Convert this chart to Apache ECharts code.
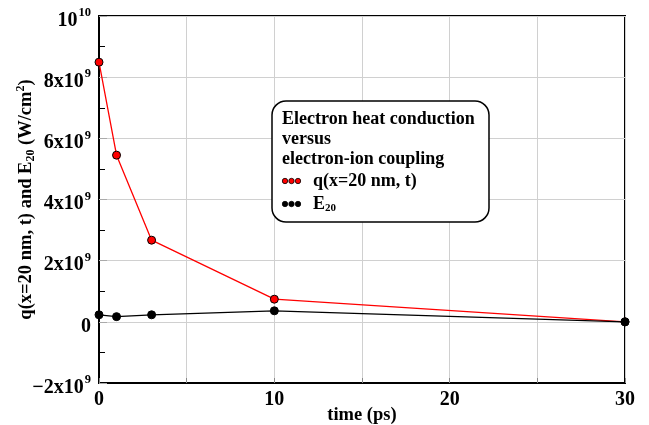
<!DOCTYPE html>
<html><head><meta charset="utf-8">
<script src="https://cdn.jsdelivr.net/npm/echarts@6/dist/echarts.min.js"></script>
<style>html,body{margin:0;padding:0;background:#fff}#c{width:649px;height:425px}</style>
</head><body><div id="c"></div>
<script>
const times = [0, 1, 3, 10, 30];
const qValues = [8.49e9, 5.45e9, 2.67e9, 0.74e9, 0.0];
const eValues = [0.23e9, 0.17e9, 0.23e9, 0.36e9, 0.0];
const xTickLabels = {0: '0', 10: '10', 20: '20', 30: '30'};
const yTickLabels = {
  '-2000000000': ['−2x10', '9'],
  '0': ['0', ''],
  '2000000000': ['2x10', '9'],
  '4000000000': ['4x10', '9'],
  '6000000000': ['6x10', '9'],
  '8000000000': ['8x10', '9'],
  '10000000000': ['10', '10']
};
const FONT = '"Liberation Serif", "Times New Roman", serif';
const chart = echarts.init(document.getElementById('c'), null, {renderer: 'canvas'});
const sup = {fontFamily: FONT, fontWeight: 'bold', fontSize: 12.5, verticalAlign: 'top', lineHeight: 24, padding: [0,0,0,1]};
const big = {fontFamily: FONT, fontWeight: 'bold', fontSize: 20, lineHeight: 24, verticalAlign: 'bottom'};
const LF = 'bold 18px ' + FONT;
chart.setOption({
  animation: false,
  grid: {left: 99, right: 24, top: 16, bottom: 42, show: true, borderColor: '#000', borderWidth: 2,
         backgroundColor: 'transparent', outerBoundsMode: 'none', containLabel: false},
  xAxis: {
    type: 'value', min: 0, max: 30, interval: 5,
    name: 'time (ps)', nameLocation: 'middle', nameGap: 23, nameMoveOverlap: false,
    nameTextStyle: {fontFamily: FONT, fontWeight: 'bold', fontSize: 18.5, color: '#000'},
    axisLine: {onZero: false, lineStyle: {color: '#000', width: 2}},
    axisTick: {inside: true, length: 5, lineStyle: {color: '#888'}},
    axisLabel: {margin: 7, color: '#000', fontFamily: FONT, fontWeight: 'bold', fontSize: 20,
      formatter: v => (xTickLabels[v] !== undefined ? xTickLabels[v] : '')},
    splitLine: {show: true, lineStyle: {color: '#d0d0d0', width: 1}}
  },
  yAxis: {
    type: 'value', min: -2e9, max: 1e10, interval: 2e9,
    name: '{t|q(x=20 nm, t) and E}{sb|20}{t| (W/cm}{sp|2}{t|)}',
    nameLocation: 'middle', nameGap: 62, nameRotate: 90, nameMoveOverlap: false,
    nameTextStyle: {color: '#000', rich: {
      t: {fontFamily: FONT, fontWeight: 'bold', fontSize: 18.5, lineHeight: 22, verticalAlign: 'middle'},
      sb: {fontFamily: FONT, fontWeight: 'bold', fontSize: 12, lineHeight: 22, verticalAlign: 'bottom'},
      sp: {fontFamily: FONT, fontWeight: 'bold', fontSize: 12, lineHeight: 22, verticalAlign: 'top'}
    }},
    axisLine: {onZero: false, lineStyle: {color: '#000', width: 2}},
    axisTick: {inside: true, length: 8, lineStyle: {color: '#aaa'}},
    minorTick: {show: true, splitNumber: 2, length: 6, lineStyle: {color: '#000'}},
    axisLabel: {margin: 8, color: '#000', padding: [5, 0, 0, 0],
      formatter: v => { const l = yTickLabels[String(v)]; if (!l) return ''; return l[1] ? '{b|' + l[0] + '}{s|' + l[1] + '}' : '{b|' + l[0] + '}'; },
      rich: {b: big, s: sup}},
    splitLine: {show: true, lineStyle: {color: '#d0d0d0', width: 1}}
  },
  series: [
    {type: 'line', data: times.map((t, i) => [t, qValues[i]]), symbol: 'circle', symbolSize: 8,
     lineStyle: {color: '#ff0000', width: 1.3}, itemStyle: {color: '#ff0000', borderColor: '#000', borderWidth: 1}, z: 3},
    {type: 'line', data: times.map((t, i) => [t, eValues[i]]), symbol: 'circle', symbolSize: 8,
     lineStyle: {color: '#000', width: 1.3}, itemStyle: {color: '#000', borderColor: '#000', borderWidth: 1}, z: 4}
  ],
  graphic: [
    {type: 'rect', shape: {x: 272, y: 101, width: 217, height: 121, r: 14}, style: {fill: '#fff', stroke: '#000', lineWidth: 1.5}, z: 10},
    {type: 'text', x: 282, y: 119, style: {text: 'Electron heat conduction', font: LF, fill: '#000', verticalAlign: 'middle'}, z: 11},
    {type: 'text', x: 282, y: 139, style: {text: 'versus', font: LF, fill: '#000', verticalAlign: 'middle'}, z: 11},
    {type: 'text', x: 282, y: 159, style: {text: 'electron-ion coupling', font: LF, fill: '#000', verticalAlign: 'middle'}, z: 11},
    {type: 'circle', shape: {cx: 285, cy: 181, r: 2.7}, style: {fill: '#ff0000', stroke: '#000', lineWidth: 0.8}, z: 11},
    {type: 'circle', shape: {cx: 291.5, cy: 181, r: 2.7}, style: {fill: '#ff0000', stroke: '#000', lineWidth: 0.8}, z: 11},
    {type: 'circle', shape: {cx: 298, cy: 181, r: 2.7}, style: {fill: '#ff0000', stroke: '#000', lineWidth: 0.8}, z: 11},
    {type: 'text', x: 313, y: 181, style: {text: 'q(x=20 nm, t)', font: LF, fill: '#000', verticalAlign: 'middle'}, z: 11},
    {type: 'circle', shape: {cx: 285, cy: 204, r: 2.7}, style: {fill: '#000', stroke: '#000', lineWidth: 0.8}, z: 11},
    {type: 'circle', shape: {cx: 291.5, cy: 204, r: 2.7}, style: {fill: '#000', stroke: '#000', lineWidth: 0.8}, z: 11},
    {type: 'circle', shape: {cx: 298, cy: 204, r: 2.7}, style: {fill: '#000', stroke: '#000', lineWidth: 0.8}, z: 11},
    {type: 'text', x: 313, y: 204, style: {text: '{t|E}{s|20}', verticalAlign: 'middle', rich: {
      t: {font: LF, fill: '#000', lineHeight: 20, verticalAlign: 'middle'},
      s: {font: 'bold 11px ' + FONT, fill: '#000', lineHeight: 20, verticalAlign: 'bottom'}}}, z: 11}
  ]
});
</script></body></html>
